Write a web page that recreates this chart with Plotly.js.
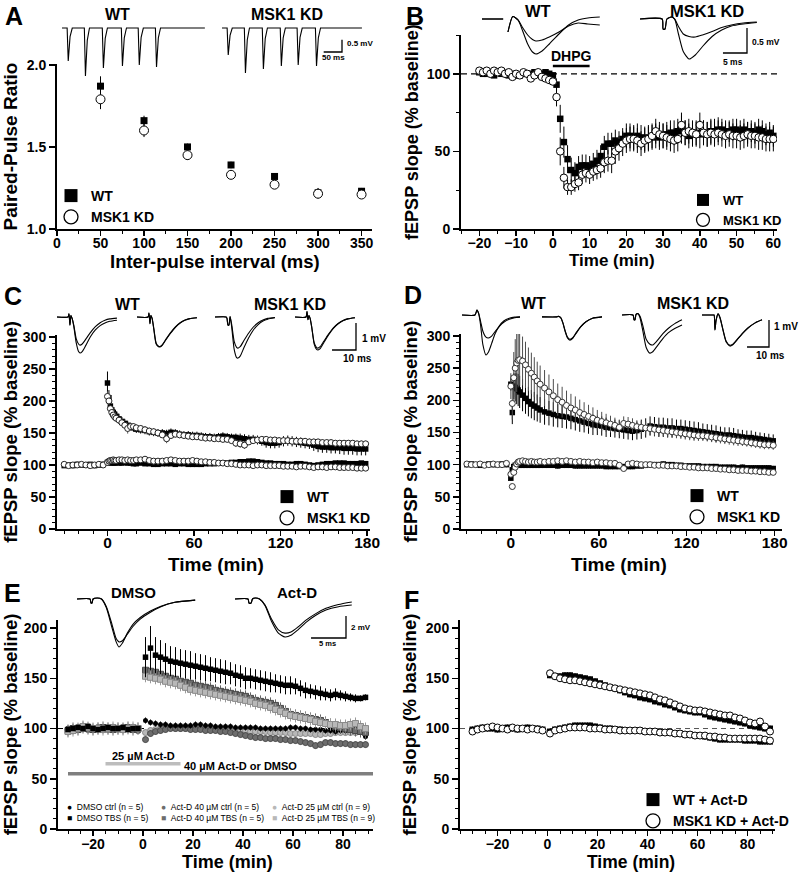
<!DOCTYPE html>
<html>
<head>
<meta charset="utf-8">
<script src="https://cdn.plot.ly/plotly-3.0.1.min.js"></script>
<style>
html,body{margin:0;padding:0;background:#fff;}
#chart{width:800px;height:875px;}
</style>
</head>
<body>
<div id="chart"></div>
<script>
// ================= DATA =================
// ---- Panel A : paired-pulse ratio ----
const ppInterval = [50,100,150,200,250,300,350];
const ppWT  = [1.87,1.66,1.50,1.39,1.32,1.22,1.23];
const ppWTe = [0.06,0.03,0.02,0.02,0.02,0.03,0.02];
const ppKD  = [1.79,1.60,1.45,1.33,1.27,1.215,1.21];
const ppKDe = [0.06,0.04,0.03,0.02,0.02,0.03,0.02];

// ---- Panel B : DHPG LTD ----
const tB = [-20,-19,-18,-17,-16,-15,-14,-13,-12,-11,-10,-9,-8,-7,-6,-5,-4,-3,-2,-1,
  0,1,2,3,4,5,6,7,8,9,10,11,12,13,14,15,16,17,18,19,20,21,22,23,24,25,26,27,28,29,
  30,31,32,33,34,35,36,37,38,39,40,41,42,43,44,45,46,47,48,49,50,51,52,53,54,55,56,57,58,59,60];
const bWT = [101,100,100,101,99,101,100,100,99,100, 99,99,100,100,100,101,100,100,101,100,
  99,93,71,56,45,38,36,40,41,41, 40,42,44,47,53,55,55,57,56,58,
  60,60,59,60,59,58,59,59,60,59, 60,61,62,62,63,64,62,60,61,62,
  61,62,61,63,63,64,64,63,63,64, 64,63,64,62,63,62,64,63,61,62, 60];
const bWTe = [2,1,1,2,1,2,1,1,2,1, 2,1,1,2,1,1,2,1,1,2,
  2,4,9,10,9,8,7,7,7,7, 7,7,7,7,7,7,7,7,7,7,
  8,8,8,8,8,8,8,8,8,8, 8,8,8,8,8,9,8,8,8,8,
  9,8,8,8,8,8,7,7,7,7, 7,7,7,7,7,7,7,7,7,7, 7];
const bKD = [102,101,102,100,102,101,102,100,101,98, 100,99,101,100,97,99,101,98,97,96,
  95,85,50,33,27,27,29,30,35,36, 35,37,38,39,43,44,44,50,52,55,
  57,58,58,57,55,57,58,60,63,61, 60,59,58,57,58,67,62,63,62,61,
  67,62,61,62,61,62,61,60,61,60, 60,59,60,61,60,60,59,59,58,58, 58];
const bKDe = [2,2,1,2,2,1,2,2,1,2, 2,1,2,2,1,2,2,1,2,2,
  2,6,9,7,5,5,5,5,6,6, 6,6,6,6,7,7,8,8,8,8,
  8,8,8,8,8,8,8,8,8,8, 8,8,8,8,8,8,8,8,8,8,
  8,8,8,8,8,8,8,8,8,8, 8,8,8,8,8,8,8,8,8,8, 8];
const dhpgPeriod = [0,10];

// ---- Panels C & D : TBS LTP (times in min) ----
const tPre  = [-30,-27,-24,-21,-18,-15,-12,-9,-6,-3];
const tPost = [0,1,2,3,4,5,6,8,10,12, 14,16,18,20,23,26,29,32,35,38,
  41,44,47,50,53,56,59,62,65,68, 71,74,77,80,83,86,89,92,95,98,
  101,104,107,110,113,116,119,122,125,128, 131,134,137,140,143,146,149,152,155,158,
  161,164,167,170,173,176,179];

const cWT = [228,205,192,186,182,179,176,172,168,165, 162,160,158,156,155,154,152,151,150,150,
  149,151,150,148,147,147,146,146,145,144, 144,143,144,145,144,143,143,142,141,140,
  140,139,137,135,134,134,135,137,138,137, 136,135,134,133,131,129,128,128,127,127,
  127,126,126,126,125,125,125];
const cWTe = [18,12,10,9,8,8,8,8,7,7, 7,6,6,6,6,6,6,6,6,6,
  6,6,6,6,6,6,6,6,6,6, 6,6,6,6,6,6,6,7,7,7,
  7,7,7,8,8,8,8,8,8,8, 8,8,8,8,9,9,9,9,9,9,
  10,10,10,10,10,10,10];
const cKD = [207,200,188,182,178,175,173,170,166,162, 157,160,160,158,157,155,153,152,150,147,
  141,146,148,147,146,145,144,144,143,142, 142,141,141,140,140,138,134,133,131,136,
  138,139,140,140,139,139,138,138,138,137, 137,137,137,136,136,136,135,135,135,134,
  134,134,134,134,133,133,133];
const cKDe = [8,6,5,5,5,5,5,5,5,5, 8,5,5,5,5,5,5,5,5,5,
  7,5,5,5,5,5,5,5,5,5, 5,5,5,5,5,5,6,6,6,5,
  5,5,5,5,5,5,5,5,5,5, 5,5,5,5,5,5,5,5,5,5,
  5,5,5,5,5,5,5];
const cWTctrlPre = [99,100,99,101,100,100,101,99,100,101];
const cWTctrl = [104,103,104,104,103,103,104,103,103,104, 103,103,102,102,103,102,102,101,101,102,
  102,102,101,102,102,101,101,101,101,102, 102,102,103,103,103,104,104,105,105,106,
  106,105,104,103,103,102,102,102,101,101, 102,102,101,100,99,100,101,102,102,103,
  103,103,102,102,102,103,102];
const cKDctrlPre = [101,99,100,100,101,100,99,100,101,100];
const cKDctrl = [104,106,107,107,108,107,107,108,108,107, 108,107,107,108,108,109,107,106,106,106,
  107,108,107,106,106,106,107,106,105,105, 104,104,103,103,102,102,101,100,100,100,
  99,100,100,99,99,99,99,98,98,98, 97,98,98,97,96,97,97,96,97,97,
  96,96,96,96,95,95,95];

const dWT = [225,181,222,220,218,216,213,208,203,198, 194,191,188,185,182,180,178,176,175,174,
  172,170,168,166,164,162,161,160,158,157, 156,155,154,153,152,153,155,157,160,159,
  158,158,157,157,156,156,155,154,153,152, 151,150,149,148,147,146,146,145,144,143,
  142,142,141,140,139,138,137];
const dWTe = [10,18,20,22,24,25,25,25,24,23, 22,22,21,20,20,19,19,18,18,18,
  17,17,17,16,16,16,15,15,15,14, 14,14,14,14,14,14,15,15,15,15,
  15,15,15,15,14,14,14,14,14,14, 13,13,13,13,12,12,12,12,11,11,
  11,11,10,10,10,10,10];
const dKD = [222,195,235,250,258,262,263,261,255,248, 242,236,230,225,219,213,207,201,197,192,
  188,185,181,178,175,172,169,167,165,163, 161,158,164,163,161,159,158,157,156,155,
  154,153,152,151,150,149,148,147,146,145, 145,144,143,142,141,140,139,138,137,136,
  135,134,133,132,131,131,130];
const dKDe = [20,25,40,45,45,42,40,38,36,34, 32,31,30,29,28,27,26,25,24,23,
  22,21,20,19,18,17,16,15,14,13, 12,12,11,11,11,10,10,10,10,10,
  10,9,9,9,9,9,9,9,9,8, 8,8,8,8,8,8,8,8,8,7,
  7,7,7,7,7,7,7];
const dWTctrlPre = [100,101,100,99,100,101,100,100,101,100];
const dWTctrl = [79,92,97,99,100,100,99,99,99,99, 99,99,99,99,99,99,99,98,99,99,
  99,98,98,98,98,98,98,98,97,97, 97,97,97,97,97,98,98,99,100,100,
  100,101,100,100,99,99,98,98,98,98, 97,97,97,97,96,96,96,96,95,96,
  95,95,95,95,95,95,94];
const dKDctrlPre = [101,100,100,101,99,100,101,100,100,102];
const dKDctrl = [85,66,88,96,101,104,105,106,105,104, 105,104,104,105,104,105,105,106,105,106,
  105,104,105,104,104,103,104,103,103,102, 102,99,94,101,102,101,100,100,100,99,
  99,99,98,98,98,97,97,96,96,95, 95,95,94,94,93,93,92,92,91,91,
  91,90,90,89,89,88,88];

// ---- Panels E & F : Act-D experiments ----
const tEpre  = [-30,-28,-26,-24,-22,-20,-18,-16,-14,-12,-10,-8,-6,-4,-2];
const tEpost = [1,3,5,7,9,11,13,15,17,19, 21,23,25,27,29,31,33,35,37,39,
  41,43,45,47,49,51,53,55,57,59, 61,63,65,67,69,71,73,75,77,79, 81,83,85,87,89];

const eDmsoTbsPre = [99,100,101,100,102,100,99,100,101,100,100,101,99,100,100];
const eDmsoTbs = [171,180,173,171,169,167,166,165,164,163, 162,161,160,159,158,157,156,155,153,152,
  150,150,149,148,147,146,145,144,143,143, 142,140,138,137,136,135,134,133,134,133, 132,131,130,130,131];
const eDmsoTbsE = [20,22,18,17,16,15,15,14,14,14, 13,13,13,12,12,12,12,11,11,11,
  11,10,10,10,10,10,9,9,9,9, 8,8,8,7,7,7,6,6,6,5, 5,4,4,3,3];
const e40TbsPre = [98,100,99,101,100,99,100,101,100,99,100,100,101,99,100];
const e40Tbs = [158,157,156,154,152,150,149,147,146,145, 143,142,141,140,138,137,136,135,134,133,
  132,130,128,127,126,125,123,120,117,114, 113,112,111,110,109,108,106,104,102,101, 100,99,98,97,96];
const e25TbsPre = [97,98,100,102,101,100,100,99,100,101,100,99,100,101,100];
const e25Tbs = [152,151,150,149,147,146,145,143,141,139, 138,137,136,135,134,133,132,131,130,129,
  128,127,125,124,123,121,119,117,115,113, 112,111,110,109,107,106,105,104,104,103, 103,104,105,102,100];
const eDmsoCtrlPre = [100,101,99,100,101,100,99,101,100,100,101,99,100,101,100];
const eDmsoCtrl = [108,106,105,104,104,103,103,103,103,103, 104,104,103,103,102,102,102,102,101,101,
  101,101,101,100,100,100,100,100,100,101, 101,100,100,99,99,99,98,98,97,98, 98,98,97,96,92];
const e40CtrlPre = [99,100,101,100,99,100,101,100,99,100,100,101,100,99,98];
const e40Ctrl = [89,95,97,98,99,100,100,100,100,99, 99,99,98,98,98,97,97,96,95,94,
  93,92,91,91,90,90,90,89,89,88, 88,87,86,85,83,84,86,86,85,85, 85,84,84,84,84];
const e25CtrlPre = [98,99,100,101,102,100,99,100,101,100,99,100,101,100,99];
const e25Ctrl = [96,98,99,100,100,101,100,100,100,100, 100,100,100,99,99,99,99,98,98,98,
  98,97,97,97,97,96,96,96,96,95, 95,95,95,95,94,94,95,95,96,96, 96,96,96,97,97];
const eTbsActDErr = 6;
const eCtrlErr = 3;
const actD25Period = [-15,15];
const actD40Period = [-30,92];
const eGroupNames = ['DMSO ctrl (n = 5)', 'DMSO TBS (n = 5)', 'Act-D 40 µM ctrl (n = 5)',
  'Act-D 40 µM TBS (n = 5)', 'Act-D 25 µM ctrl (n = 9)', 'Act-D 25 µM TBS (n = 9)'];

const fWTTbs = [153,152,152,153,153,152,151,150,149,147, 145,143,141,140,138,136,134,133,131,130,
  129,127,126,124,123,121,119,118,117,116, 116,114,112,111,110,109,108,107,106,105, 103,102,101,100,100];
const fKDTbs = [155,152,150,149,148,148,147,146,145,144, 143,142,141,140,139,138,137,136,135,134,
  133,131,129,128,126,124,122,120,119,118, 118,117,116,115,114,113,113,111,110,108, 106,105,107,102,97];
const fWTCtrlPre = [99,100,101,100,100,99,100,101,100,99,100,101,100,100,99];
const fWTCtrl = [97,99,100,101,102,103,103,103,103,102, 101,100,100,99,99,98,98,98,98,97,
  97,97,96,96,96,95,95,94,94,93, 93,92,91,90,89,89,89,89,89,88, 88,88,87,87,87];
const fKDCtrlPre = [97,99,100,101,102,101,100,99,101,100,100,99,100,99,98];
const fKDCtrl = [95,98,99,100,101,101,101,101,100,100, 100,99,99,99,98,98,98,98,98,97,
  97,97,96,96,96,95,95,94,94,93, 93,93,92,92,91,91,90,90,90,90, 90,90,90,89,88];
const fErr = 3;

// ---- Example fEPSP traces (ms, mV) ----
const insA_WT_t = [0,14,17,22,28,61,64,69,75,110,113,118,124,162,165,170,176,208,211,216,222,255,258,263,269,390];
const insA_WT_v = [0,0,-1.34,-0.35,0,0,-1.95,-0.5,0,0,-1.63,-0.42,0,0,-1.55,-0.4,0,0,-1.5,-0.38,0,0,-1.59,-0.4,0,0];
const insA_KD_t = [0,14,17,22,28,61,64,69,75,110,113,118,124,159,162,167,173,205,208,213,219,255,258,263,269,382];
const insA_KD_v = [0,0,-1.1,-0.3,0,0,-1.83,-0.48,0,0,-1.67,-0.43,0,0,-1.55,-0.4,0,0,-1.5,-0.38,0,0,-1.55,-0.4,0,0];

const insB_WT_t = [0,4.4,null,5.4,6.4,7.5,8.5,9.5,10.5,11.2,12.5,14,16,18,20,22,24.5];
const insB_WT_big = [0,0,null,-0.26,0.05,-0.02,-0.25,-0.5,-0.66,-0.70,-0.64,-0.5,-0.3,-0.12,-0.02,0.02,0.04];
const insB_WT_small = [0,0,null,-0.26,0.05,-0.02,-0.18,-0.32,-0.41,-0.44,-0.42,-0.36,-0.26,-0.14,-0.08,-0.1,-0.12];
const insB_KD_t = [0,4.6,4.8,5.2,5.6,6.5,7.2,8,9,10.2,11.5,13,15,17,19,21.5,24.3];
const insB_KD_big = [0,0,-0.2,-0.2,0,0.04,0,-0.3,-0.65,-0.8,-0.72,-0.55,-0.35,-0.22,-0.14,-0.1,-0.07];
const insB_KD_small = [0,0,-0.2,-0.2,0,0.04,0,-0.15,-0.3,-0.35,-0.36,-0.32,-0.25,-0.17,-0.12,-0.08,-0.06];

const insC_t = [0,4.6,5.0,5.4,5.8,6.3,7,8,9,9.6,10.5,12,14,16,18,20,22,25];
const insC1_big = [0,0,0.12,-0.3,0.05,-0.05,-0.35,-0.95,-1.28,-1.33,-1.28,-1.05,-0.72,-0.48,-0.32,-0.22,-0.16,-0.12];
const insC1_small = [0,0,0.12,-0.3,0.05,-0.05,-0.3,-0.8,-1.0,-1.04,-1.0,-0.82,-0.57,-0.36,-0.21,-0.12,-0.07,-0.04];
const insC2_a = [0,0,0.15,-0.25,0.05,-0.05,-0.45,-1.0,-1.1,-1.11,-1.05,-0.85,-0.6,-0.38,-0.22,-0.12,-0.06,-0.03];
const insC2_b = [0,0,0.15,-0.25,0.05,-0.05,-0.42,-0.97,-1.08,-1.09,-1.03,-0.83,-0.58,-0.37,-0.21,-0.11,-0.06,-0.03];
const insC3_big = [0,0,-0.05,-0.3,-0.3,0.02,-0.4,-1.2,-1.5,-1.52,-1.45,-1.15,-0.78,-0.48,-0.28,-0.15,-0.08,-0.03];
const insC3_small = [0,0,-0.05,-0.3,-0.3,0.02,-0.3,-0.9,-1.12,-1.15,-1.1,-0.88,-0.6,-0.37,-0.21,-0.11,-0.05,-0.02];
const insC4_big = [0,0,0.2,-0.1,0.05,-0.05,-0.4,-1.0,-1.2,-1.22,-1.17,-0.95,-0.66,-0.42,-0.25,-0.14,-0.07,-0.03];
const insC4_small = [0,0,0.2,-0.1,0.05,-0.05,-0.38,-0.95,-1.13,-1.15,-1.1,-0.9,-0.63,-0.4,-0.24,-0.13,-0.07,-0.03];

const insD1_t = [0,5.9,6.8,7.6,8.5,9.5,10.9,12,13.5,15,17,19,21.5,24,26.4];
const insD1_big = [0,0,0.18,0.05,-0.4,-1.1,-1.48,-1.38,-1.05,-0.7,-0.4,-0.22,-0.12,-0.08,-0.07];
const insD1_small = [0,0,0.18,0.05,-0.25,-0.6,-0.82,-0.85,-0.78,-0.62,-0.42,-0.27,-0.16,-0.1,-0.08];
const insD2_t = [0,6.8,7.5,8.5,9.5,10.5,11.6,12.7,14,15.5,17.5,20,23,27.3];
const insD2_a = [-0.07,-0.07,-0.05,-0.1,-0.3,-0.6,-0.85,-0.93,-0.86,-0.68,-0.45,-0.25,-0.12,-0.07];
const insD2_b = [-0.07,-0.07,-0.05,-0.1,-0.28,-0.57,-0.82,-0.9,-0.84,-0.66,-0.44,-0.25,-0.12,-0.07];
const insD34_t = [0,5,5.5,5.9,6.4,7.3,8.2,9.5,11,12.7,14,16,18.5,21,24,27.3];
const insD3_big = [0,0,-0.18,-0.18,0.02,0.05,-0.1,-0.6,-1.2,-1.41,-1.36,-1.15,-0.88,-0.66,-0.5,-0.37];
const insD3_small = [0,0,-0.18,-0.18,0.02,0.05,-0.05,-0.4,-0.9,-1.08,-1.11,-0.95,-0.7,-0.5,-0.32,-0.18];
const insD4_a = [0,0,0,-0.55,-0.2,0.04,-0.1,-0.55,-1.0,-1.15,-1.1,-0.92,-0.68,-0.48,-0.3,-0.18];
const insD4_b = [0,0,0,-0.55,-0.2,0.04,-0.1,-0.52,-0.97,-1.12,-1.08,-0.9,-0.67,-0.47,-0.3,-0.18];

const insE1_t = [0,1.86,2.0,2.15,2.3,2.9,3.5,4.2,5.0,5.6,6.0,6.5,7.2,8.0,9.0,10.5,12,14,16.9];
const insE1_big = [0,0,-0.36,-0.36,0,0.09,0,-0.8,-2.6,-3.9,-4.36,-4.0,-3.1,-2.3,-1.7,-1.1,-0.65,-0.3,-0.1];
const insE1_small = [0,0,-0.36,-0.36,0,0.09,0,-0.7,-2.3,-3.6,-3.9,-3.8,-3.2,-2.5,-1.85,-1.2,-0.7,-0.3,-0.1];
const insE2_t = [0,1.86,2.0,2.3,2.5,2.9,3.5,4.3,5.2,6.2,7.15,8.0,9.0,10.2,11.5,13,14.8,16.7];
const insE2_big = [0,0,-0.36,-0.36,0,0.09,0,-0.6,-2.0,-3.1,-3.45,-3.3,-2.8,-2.1,-1.5,-1.0,-0.7,-0.55];
const insE2_small = [0,0,-0.36,-0.36,0,0.09,0,-0.55,-1.8,-2.8,-3.1,-3.0,-2.55,-1.9,-1.35,-0.85,-0.5,-0.27];

// scale bars [ms, mV]
const scaleA = [50, 0.5];
const scaleB = [5, 0.5];
const scaleC = [10, 1];
const scaleD = [10, 1];
const scaleE = [5, 2];

// ================= DRAWING =================
const W = 800, H = 875;
const FONT = 'Liberation Sans, Arial, Helvetica, sans-serif';
const dx = (a, b) => [a / W, b / W];
const dy = (top, bot) => [1 - bot / H, 1 - top / H];
const cat = (a, b) => a.concat(b);

function mn(d, t0, len) { return {ticks: 'outside', ticklen: len || 3, tickwidth: 1, tickcolor: '#000', dtick: d, tick0: t0 || 0, showgrid: false}; }
function tf(size) { return {family: FONT, size, color: '#000', weight: 'bold'}; }
function ax(domain, range, anchor, extra) {
  return Object.assign({
    domain, range, anchor, showline: true, linewidth: 2, linecolor: '#000',
    ticks: 'outside', ticklen: 6, tickwidth: 1.5, tickcolor: '#000',
    showgrid: false, zeroline: false, fixedrange: true, tickfont: tf(14)
  }, extra);
}
function ttl(text, size, standoff) { return {text, font: tf(size), standoff}; }

function pts(xa, ya, x, y, err, sym, size, fill, lineCol, errCol) {
  const t = {type: 'scatter', mode: 'markers', x, y, xaxis: xa, yaxis: ya, showlegend: false, hoverinfo: 'skip',
    marker: {symbol: sym, size, color: fill, line: {color: lineCol || fill, width: lineCol ? 1 : 0}}};
  if (err !== null && err !== undefined) {
    t.error_y = Array.isArray(err)
      ? {type: 'data', array: err, visible: true, color: errCol || '#000', thickness: 1, width: 0}
      : {type: 'constant', value: err, visible: true, color: errCol || '#000', thickness: 1, width: 0};
  }
  return t;
}
function legItem(name, legend, sym, size, fill, lineCol, xa, ya) {
  return {type: 'scatter', mode: 'markers', x: [null], y: [null], xaxis: xa, yaxis: ya, name, legend,
    showlegend: true, hoverinfo: 'skip',
    marker: {symbol: sym, size, color: fill, line: {color: lineCol || fill, width: lineCol ? 1.3 : 0}}};
}

// inset geometry (pixel positions -> data scales)
const G = {
  A: {n: 7,  x0: 55,  x1: 375, y0: 15,  y1: 82,  ms: 2.73,  mv: 0.0407, base: 28},
  B: {n: 8,  x0: 478, x1: 780, y0: 3,   y1: 65,  ms: 0.208, mv: 0.02,   base: 19},
  C: {n: 9,  x0: 55,  x1: 372, y0: 298, y1: 366, ms: 0.417, mv: 0.037,  base: 317},
  D: {n: 10, x0: 455, x1: 785, y0: 296, y1: 366, ms: 0.455, mv: 0.037,  base: 315},
  E: {n: 11, x0: 70,  x1: 360, y0: 586, y1: 655, ms: 0.143, mv: 0.0909, base: 599}
};
function insetAxes(g) {
  return [
    {domain: dx(g.x0, g.x1), range: [0, (g.x1 - g.x0) * g.ms], visible: false, anchor: 'y' + g.n, fixedrange: true},
    {domain: dy(g.y0, g.y1), range: [(g.base - g.y1) * g.mv, (g.base - g.y0) * g.mv], visible: false, anchor: 'x' + g.n, fixedrange: true}
  ];
}
function wave(g, startPx, t, v, shape) {
  const off = (startPx - g.x0) * g.ms;
  return {type: 'scatter', mode: 'lines', x: t.map(a => a === null ? null : a + off), y: v,
    xaxis: 'x' + g.n, yaxis: 'y' + g.n, showlegend: false, hoverinfo: 'skip', connectgaps: false,
    line: {color: '#000', width: 1.1, shape: shape || 'spline', smoothing: 0.6}};
}
function scaleBar(g, cx, cy, sc) {
  const X = (cx - g.x0) * g.ms, Y = (g.base - cy) * g.mv;
  return {type: 'scatter', mode: 'lines', x: [X - sc[0], X, X], y: [Y, Y, Y + sc[1]],
    xaxis: 'x' + g.n, yaxis: 'y' + g.n, showlegend: false, hoverinfo: 'skip',
    line: {color: '#000', width: 1.3}};
}

const traces = [];
// ---- A ----
traces.push(pts('x', 'y', ppInterval, ppWT, ppWTe, 'square', 7, '#000'));
traces.push(pts('x', 'y', ppInterval, ppKD, ppKDe, 'circle', 9, '#fff', '#000'));
// ---- B ----
traces.push(pts('x2', 'y2', tB, bWT, bWTe, 'square', 6.5, '#000'));
traces.push(pts('x2', 'y2', tB, bKD, bKDe, 'circle', 7.5, '#fff', '#000'));
// ---- C ----
traces.push(pts('x3', 'y3', cat(tPre, tPost), cat(cWTctrlPre, cWTctrl), 3, 'square', 5.5, '#000'));
traces.push(pts('x3', 'y3', cat(tPre, tPost), cat(cKDctrlPre, cKDctrl), 2, 'circle', 6, '#fff', '#222', '#555'));
traces.push(pts('x3', 'y3', tPost, cWT, cWTe, 'square', 5.5, '#000'));
traces.push(pts('x3', 'y3', tPost, cKD, cKDe, 'circle', 6, '#fff', '#222', '#555'));
// ---- D ----
traces.push(pts('x4', 'y4', cat(tPre, tPost), cat(dWTctrlPre, dWTctrl), 4, 'square', 5.5, '#000'));
traces.push(pts('x4', 'y4', cat(tPre, tPost), cat(dKDctrlPre, dKDctrl), 2, 'circle', 6, '#fff', '#333', '#555'));
traces.push(pts('x4', 'y4', tPost, dWT, dWTe, 'square', 5.5, '#000'));
traces.push(pts('x4', 'y4', tPost, dKD, dKDe, 'circle', 6, '#fff', '#333', '#4d4d4d'));
// ---- E ----
const C40 = '#6d6d6d', C25 = '#b8b8b8';
traces.push(pts('x5', 'y5', cat(tEpre, tEpost), cat(e25CtrlPre, e25Ctrl), eCtrlErr, 'circle', 6, C25, '#8a8a8a', '#999'));
traces.push(pts('x5', 'y5', cat(tEpre, tEpost), cat(e40CtrlPre, e40Ctrl), eCtrlErr, 'circle', 6, C40, '#4a4a4a', '#666'));
traces.push(pts('x5', 'y5', cat(tEpre, tEpost), cat(eDmsoCtrlPre, eDmsoCtrl), eCtrlErr, 'circle', 5, '#000'));
traces.push(pts('x5', 'y5', cat(tEpre, tEpost), cat(e40TbsPre, e40Tbs), eTbsActDErr, 'square', 6, C40, '#4a4a4a', '#666'));
traces.push(pts('x5', 'y5', cat(tEpre, tEpost), cat(e25TbsPre, e25Tbs), eTbsActDErr, 'square', 6, C25, '#8a8a8a', '#999'));
traces.push(pts('x5', 'y5', cat(tEpre, tEpost), cat(eDmsoTbsPre, eDmsoTbs), cat(Array(15).fill(2), eDmsoTbsE), 'square', 5.5, '#000'));
// ---- F ----
traces.push(pts('x6', 'y6', cat(tEpre, tEpost), cat(fWTCtrlPre, fWTCtrl), fErr, 'square', 6, '#000'));
traces.push(pts('x6', 'y6', cat(tEpre, tEpost), cat(fKDCtrlPre, fKDCtrl), fErr, 'circle', 7, '#fff', '#000'));
traces.push(pts('x6', 'y6', tEpost, fWTTbs, fErr, 'square', 6, '#000'));
traces.push(pts('x6', 'y6', tEpost, fKDTbs, fErr, 'circle', 7, '#fff', '#000'));

// ---- insets ----
traces.push(wave(G.A, 62, insA_WT_t, insA_WT_v, 'linear'));
traces.push(wave(G.A, 222, insA_KD_t, insA_KD_v, 'linear'));
traces.push(scaleBar(G.A, 342, 52, scaleA));
traces.push(wave(G.B, 482, insB_WT_t, insB_WT_big));
traces.push(wave(G.B, 482, insB_WT_t, insB_WT_small));
traces.push(wave(G.B, 640, insB_KD_t, insB_KD_big));
traces.push(wave(G.B, 640, insB_KD_t, insB_KD_small));
traces.push(scaleBar(G.B, 747, 53, scaleB));
traces.push(wave(G.C, 57, insC_t, insC1_big));
traces.push(wave(G.C, 57, insC_t, insC1_small));
traces.push(wave(G.C, 137, insC_t, insC2_a));
traces.push(wave(G.C, 137, insC_t, insC2_b));
traces.push(wave(G.C, 215, insC_t, insC3_big));
traces.push(wave(G.C, 215, insC_t, insC3_small));
traces.push(wave(G.C, 295, insC_t, insC4_big));
traces.push(wave(G.C, 295, insC_t, insC4_small));
traces.push(scaleBar(G.C, 356, 350, scaleC));
traces.push(wave(G.D, 462, insD1_t, insD1_big));
traces.push(wave(G.D, 462, insD1_t, insD1_small));
traces.push(wave(G.D, 542, insD2_t, insD2_a));
traces.push(wave(G.D, 542, insD2_t, insD2_b));
traces.push(wave(G.D, 622, insD34_t, insD3_big));
traces.push(wave(G.D, 622, insD34_t, insD3_small));
traces.push(wave(G.D, 702, insD34_t, insD4_a));
traces.push(wave(G.D, 702, insD34_t, insD4_b));
traces.push(scaleBar(G.D, 769, 347, scaleD));
traces.push(wave(G.E, 77, insE1_t, insE1_big));
traces.push(wave(G.E, 77, insE1_t, insE1_small));
traces.push(wave(G.E, 235, insE2_t, insE2_big));
traces.push(wave(G.E, 235, insE2_t, insE2_small));
traces.push(scaleBar(G.E, 346, 638, scaleE));

// ---- legend entries ----
traces.push(legItem('WT', 'legend', 'square', 13, '#000', null, 'x', 'y'));
traces.push(legItem('MSK1 KD', 'legend', 'circle', 14, '#fff', '#000', 'x', 'y'));
traces.push(legItem('WT', 'legend2', 'square', 12, '#000', null, 'x2', 'y2'));
traces.push(legItem('MSK1 KD', 'legend2', 'circle', 13, '#fff', '#000', 'x2', 'y2'));
traces.push(legItem('WT', 'legend3', 'square', 13, '#000', null, 'x3', 'y3'));
traces.push(legItem('MSK1 KD', 'legend3', 'circle', 14, '#fff', '#000', 'x3', 'y3'));
traces.push(legItem('WT', 'legend4', 'square', 13, '#000', null, 'x4', 'y4'));
traces.push(legItem('MSK1 KD', 'legend4', 'circle', 14, '#fff', '#000', 'x4', 'y4'));
traces.push(legItem('WT + Act-D', 'legend5', 'square', 13, '#000', null, 'x6', 'y6'));
traces.push(legItem('MSK1 KD + Act-D', 'legend5', 'circle', 14, '#fff', '#000', 'x6', 'y6'));

function leg(xpx, ypx, size) {
  return {x: xpx / W, y: 1 - ypx / H, xanchor: 'left', yanchor: 'top', bgcolor: 'rgba(0,0,0,0)', borderwidth: 0,
    font: tf(size), itemsizing: 'trace', tracegroupgap: 0, traceorder: 'normal', orientation: 'v'};
}

function ann(text, xpx, ypx, size, xanchor, weight) {
  return {text, x: xpx / W, y: 1 - ypx / H, xref: 'paper', yref: 'paper', showarrow: false,
    xanchor: xanchor || 'center', yanchor: 'middle',
    font: {family: FONT, size, color: '#000', weight: weight || 'bold'}};
}
// compact legend of panel E (glyph + label)
const NB = '\u00A0';
function eKey(glyph, col, label, xpx, ypx) {
  return ann('<span style="color:' + col + '">' + glyph + '</span>' + NB + NB + label, xpx, ypx, 8.5, 'left', 'normal');
}

const annotations = [
  ann('A', 3, 16, 25, 'left'), ann('B', 404, 16, 25, 'left'), ann('C', 2, 296, 25, 'left'),
  ann('D', 402, 295, 25, 'left'), ann('E', 2, 593, 25, 'left'), ann('F', 402, 600, 25, 'left'),
  ann('WT', 117, 14, 16), ann('MSK1 KD', 287, 14, 16),
  ann('WT', 538, 11, 16.5), ann('MSK1 KD', 707, 11, 16.5),
  ann('WT', 127, 305, 16), ann('MSK1 KD', 290, 305, 16),
  ann('WT', 533, 303, 16), ann('MSK1 KD', 693, 303, 16),
  ann('DMSO', 133, 592, 15), ann('Act-D', 297, 592, 15),
  ann('0.5 mV', 345, 44, 8, 'left'), ann('50 ms', 333, 58, 8),
  ann('0.5 mV', 750, 42, 8.5, 'left'), ann('5 ms', 733, 62, 8.5),
  ann('1 mV', 360, 338, 10, 'left'), ann('10 ms', 357, 358, 10),
  ann('1 mV', 772, 327, 10, 'left'), ann('10 ms', 770, 355, 10),
  ann('2 mV', 349, 627, 8, 'left'), ann('5 ms', 327, 643, 7.5),
  // x-axis titles
  ann('Inter-pulse interval (ms)', 215, 261, 18.5), ann('Time (min)', 612, 260, 17),
  ann('Time (min)', 216, 564, 19), ann('Time (min)', 619, 564, 19),
  ann('Time (min)', 228, 862, 18), ann('Time (min)', 631, 862, 17.5),
  // panel E key
  eKey('●', '#000', eGroupNames[0], 65, 807), eKey('■', '#000', eGroupNames[1], 65, 818),
  eKey('●', C40, eGroupNames[2], 159, 807), eKey('■', C40, eGroupNames[3], 159, 818),
  eKey('●', C25, eGroupNames[4], 270, 807), eKey('■', C25, eGroupNames[5], 270, 818),
  {text: 'DHPG', xref: 'x2', yref: 'y2', x: (dhpgPeriod[0] + dhpgPeriod[1]) / 2, y: 105, yanchor: 'bottom', showarrow: false, font: tf(14)},
  {text: '25 µM Act-D', xref: 'x5', yref: 'y5', x: (actD25Period[0] + actD25Period[1]) / 2, y: 65, yanchor: 'bottom', showarrow: false, font: tf(11)},
  {text: '40 µM Act-D or DMSO', xref: 'x5', yref: 'y5', x: 39, y: 55, yanchor: 'bottom', showarrow: false, font: tf(11)}
];

const shapes = [
  {type: 'line', xref: 'x2 domain', yref: 'y2', x0: 0, x1: 1, y0: 100, y1: 100, layer: 'below', line: {color: '#000', width: 1.2, dash: '6px,4px'}},
  {type: 'line', xref: 'x2', yref: 'y2', x0: dhpgPeriod[0], x1: dhpgPeriod[1], y0: 105, y1: 105, line: {color: '#000', width: 2.5}},
  {type: 'line', xref: 'x5 domain', yref: 'y5', x0: 0, x1: 1, y0: 100, y1: 100, layer: 'below', line: {color: '#000', width: 1, dash: '5px,4px'}},
  {type: 'line', xref: 'x5', yref: 'y5', x0: actD25Period[0], x1: actD25Period[1], y0: 65, y1: 65, line: {color: '#bdbdbd', width: 3.5}},
  {type: 'line', xref: 'x5', yref: 'y5', x0: actD40Period[0], x1: actD40Period[1], y0: 55, y1: 55, line: {color: '#7f7f7f', width: 3.5}},
  {type: 'line', xref: 'x6 domain', yref: 'y6', x0: 0, x1: 1, y0: 100, y1: 100, layer: 'below', line: {color: '#555', width: 1, dash: '5px,4px'}}
];

const yT = 'fEPSP slope (% baseline)';
function XT(o, standoff) { return Object.assign({ticklen: 5, ticklabelstandoff: standoff}, o); }
const layout = {
  width: W, height: H, margin: {l: 0, r: 0, t: 0, b: 0},
  paper_bgcolor: '#fff', plot_bgcolor: 'rgba(0,0,0,0)',
  font: {family: FONT, color: '#000', size: 14, weight: 'bold'},
  showlegend: true,
  xaxis:  ax(dx(57, 372), [0, 362], 'y', XT({dtick: 50, tick0: 0, minor: mn(25, 0, 2.5)}, -5)),
  yaxis:  ax(dy(64, 229), [1, 2.005], 'x', {dtick: 0.5, tick0: 1, tickformat: '.1f', title: ttl('Paired-Pulse Ratio', 19, 4)}),
  xaxis2: ax(dx(461, 777), [-25, 61], 'y2', XT({dtick: 10, tick0: 0, minor: mn(5, 0, 2.5)}, -5)),
  yaxis2: ax(dy(35, 229), [0, 125], 'x2', {dtick: 50, tick0: 0, minor: mn(25), title: ttl(yT, 18, 4)}),
  xaxis3: ax(dx(57, 370), [-35, 182], 'y3', XT({dtick: 60, tick0: 0, minor: mn(10, 0, 2.5), tickfont: tf(15.5)}, -7)),
  yaxis3: ax(dy(335, 529), [0, 303], 'x3', {dtick: 50, tick0: 0, minor: mn(10), title: ttl(yT, 18.5, 4)}),
  xaxis4: ax(dx(461, 782), [-34, 185], 'y4', XT({dtick: 60, tick0: 0, minor: mn(10, 0, 2.5), tickfont: tf(15.5)}, -7)),
  yaxis4: ax(dy(334, 529), [0, 303], 'x4', {dtick: 50, tick0: 0, minor: mn(10), title: ttl(yT, 18.5, 4)}),
  xaxis5: ax(dx(58, 373), [-34, 92], 'y5', XT({dtick: 20, tick0: 0, minor: mn(5, 0, 2.5), tickfont: tf(14)}, -4)),
  yaxis5: ax(dy(620, 829), [0, 208], 'x5', {dtick: 50, tick0: 0, minor: mn(10), title: ttl(yT, 18.5, 4)}),
  xaxis6: ax(dx(460, 775), [-35, 91], 'y6', XT({dtick: 20, tick0: 0, minor: mn(5, 0, 2.5), tickfont: tf(14)}, -4)),
  yaxis6: ax(dy(620, 829), [0, 208], 'x6', {dtick: 50, tick0: 0, minor: mn(10), title: ttl(yT, 18.5, 4)}),
  legend:  leg(51, 180, 14),
  legend2: leg(683, 185, 13),
  legend3: leg(267, 481, 14),
  legend4: leg(677, 480, 14),
  legend5: leg(633, 784, 14),
  annotations, shapes
};
for (const g of Object.values(G)) {
  const [xa, ya] = insetAxes(g);
  layout['xaxis' + g.n] = xa;
  layout['yaxis' + g.n] = ya;
}

Plotly.newPlot('chart', traces, layout, {staticPlot: true, displayModeBar: false});
</script>
</body>
</html>
